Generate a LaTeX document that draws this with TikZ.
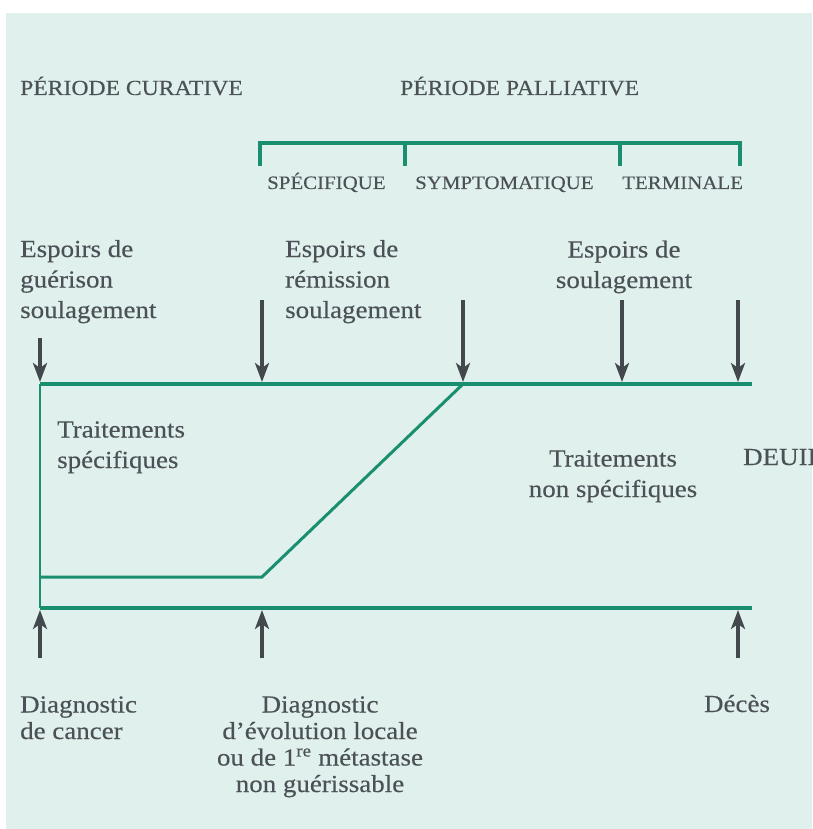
\documentclass[tikz,border=0pt]{standalone}
\usepackage{fontspec}
\setmainfont{Liberation Serif}[FakeStretch=1.1,FakeBold=0.3]
\usetikzlibrary{arrows.meta}
\definecolor{fond}{HTML}{E0F0EC}
\definecolor{vert}{HTML}{1A8F6F}
\definecolor{encre}{HTML}{4C5157}
\definecolor{fleche}{HTML}{43484D}

\begin{document}
\begin{tikzpicture}[x=1pt,y=-1pt,
  every node/.style={inner sep=0pt,text=encre,font=\fontsize{24.5}{30.5}\selectfont},
  titre/.style={font=\fontsize{21.5}{24}\selectfont},
  phase/.style={font=\fontsize{19}{22}\selectfont},
  bas/.style={font=\fontsize{24.5}{26.5}\selectfont},
  trait/.style={draw=vert,line width=4pt},
  crochet/.style={draw=vert,line width=3.5pt},
  fl/.style={draw=fleche,line width=3.5pt,-{Stealth[length=19pt,width=14pt,inset=5pt]}}]
  \useasboundingbox (0,0) rectangle (812,829);
  \fill[fond] (6,13) rectangle (812,829);
  % periodes
  \node (cur) [titre,anchor=base west] at (20,95) {PÉRIODE CURATIVE};
  \node (pal) [titre,anchor=base west] at (400,95) {PÉRIODE PALLIATIVE};
  \path[crochet] (260,166) -- (260,143) -- (740,143) -- (740,166);
  \path[crochet] (405,143) -- (405,166);
  \path[crochet] (620,143) -- (620,166);
  \node (spe) [phase,anchor=base west] at (267,189) {SPÉCIFIQUE};
  \node (sym) [phase,anchor=base west] at (415,189) {SYMPTOMATIQUE};
  \node (ter) [phase,anchor=base west] at (622,189) {TERMINALE};
  % espoirs (base = derniere ligne)
  \node (gue) [anchor=base west,align=left] at (20,318) {Espoirs de\\guérison\\soulagement};
  \node (rem) [anchor=base west,align=left] at (285,318) {Espoirs de\\rémission\\soulagement};
  \node (sou) [anchor=base,align=center] at (624,288) {Espoirs de\\soulagement};
  % lignes
  \coordinate (h0) at (40,384);
  \coordinate (h1) at (262,384);
  \coordinate (h2) at (463,384);
  \coordinate (h3) at (622,384);
  \coordinate (h4) at (738,384);
  \coordinate (hf) at (752,384);
  \coordinate (m0) at (40,577);
  \coordinate (m1) at (262,577);
  \coordinate (b0) at (40,608);
  \coordinate (b1) at (262,608);
  \coordinate (b4) at (738,608);
  \coordinate (bf) at (752,608);
  \path[trait] (h0) -- (hf);
  \path[trait] (b0) -- (bf);
  \path[trait,line width=3pt] (m0) -- (m1) -- (h2);
  \draw[vert,line width=2pt] (h0) -- (b0);
  \node (ts) [anchor=base west,align=left] at (57,468) {Traitements\\spécifiques};
  \node (tn) [anchor=base,align=center] at (613,497) {Traitements\\non spécifiques};
  \node (deu) [anchor=base west] at (743,465) {DEUIL};
  % fleches
  \coordinate (a0) at (40,338);
  \coordinate (a1) at (262,300);
  \coordinate (a2) at (463,300);
  \coordinate (a3) at (622,300);
  \coordinate (a4) at (738,300);
  \path[fl] (a0) -- ([yshift=2pt]h0);
  \path[fl] (a1) -- ([yshift=2pt]h1);
  \path[fl] (a2) -- ([yshift=2pt]h2);
  \path[fl] (a3) -- ([yshift=2pt]h3);
  \path[fl] (a4) -- ([yshift=2pt]h4);
  \coordinate (d0) at (40,658);
  \coordinate (d1) at (262,658);
  \coordinate (d4) at (738,658);
  \path[fl] (d0) -- ([yshift=-2pt]b0);
  \path[fl] (d1) -- ([yshift=-2pt]b1);
  \path[fl] (d4) -- ([yshift=-2pt]b4);
  % diagnostics
  \node (dc) [bas,anchor=base west,align=left] at (20,739) {Diagnostic\\de cancer};
  \node (de) [bas,anchor=base,align=center] at (320,792) {Diagnostic\\d’évolution locale\\ou de 1\textsuperscript{re} métastase\\non guérissable};
  \node (dd) [bas,anchor=base] at (737,712) {Décès};
\end{tikzpicture}
\end{document}
